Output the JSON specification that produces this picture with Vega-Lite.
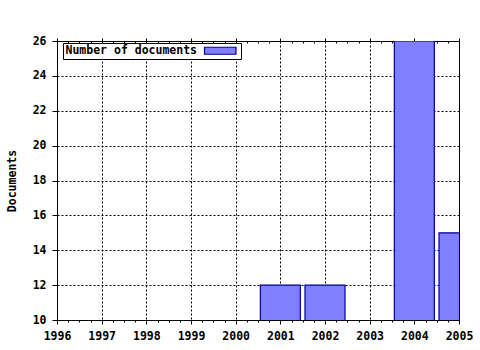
{
  "$schema": "https://vega.github.io/schema/vega-lite/v6.json",
  "width": 402,
  "height": 279,
  "autosize": {"type": "none"},
  "padding": {"left": 57, "top": 41, "right": 21, "bottom": 30},
  "background": "white",
  "config": {
    "font": "DejaVu Sans Mono",
    "view": {"stroke": "black", "strokeWidth": 1},
    "axis": {
      "labelFont": "DejaVu Sans Mono",
      "labelFontWeight": "bold",
      "labelFontSize": 11.5,
      "labelColor": "black",
      "titleFont": "DejaVu Sans Mono",
      "titleFontWeight": "bold",
      "titleFontSize": 11.5,
      "titleColor": "black",
      "domainColor": "black",
      "tickColor": "black",
      "gridColor": "black",
      "gridDash": [2, 2],
      "gridWidth": 1
    }
  },
  "data": {
    "values": [
      {"year": 2001, "docs": 12, "series": "Number of documents"},
      {"year": 2002, "docs": 12, "series": "Number of documents"},
      {"year": 2004, "docs": 26, "series": "Number of documents"},
      {"year": 2005, "docs": 15, "series": "Number of documents"}
    ]
  },
  "encoding": {
    "y": {
      "field": "docs", "type": "quantitative",
      "scale": {"domain": [10, 26], "nice": false, "zero": false, "padding": 0},
      "axis": {
        "title": "Documents",
        "values": [10, 12, 14, 16, 18, 20, 22, 24, 26],
        "labelOverlap": false,
        "labelFlush": false,
        "tickSize": 5,
        "labelPadding": 6,
        "titlePadding": 15,
        "grid": true
      }
    }
  },
  "layer": [
    {
      "mark": {"type": "bar", "width": 40, "clip": true, "stroke": "#000090", "strokeWidth": 1.2, "fillOpacity": 1},
      "encoding": {
        "x": {
          "field": "year", "type": "quantitative",
          "scale": {"domain": [1996, 2005], "nice": false, "zero": false, "padding": 0},
          "axis": {
            "title": null,
            "values": [1996,1996.25,1996.5,1996.75,1997,1997.25,1997.5,1997.75,1998,1998.25,1998.5,1998.75,1999,1999.25,1999.5,1999.75,2000,2000.25,2000.5,2000.75,2001,2001.25,2001.5,2001.75,2002,2002.25,2002.5,2002.75,2003,2003.25,2003.5,2003.75,2004,2004.25,2004.5,2004.75,2005],
            "labelExpr": "datum.value % 1 === 0 ? format(datum.value, 'd') : ''",
            "labelFlush": false,
            "labelOverlap": false,
            "labelPadding": 6,
            "tickSize": {"condition": {"test": "datum.value % 1 === 0", "value": 4}, "value": 2},
            "grid": true,
            "gridOpacity": {"condition": {"test": "datum.value % 1 === 0", "value": 1}, "value": 0}
          }
        },
        "color": {
          "field": "series", "type": "nominal",
          "scale": {"range": ["#8080ff"]},
          "legend": {
            "title": null,
            "orient": "none",
            "legendX": 6,
            "legendY": 2,
            "strokeColor": "black",
            "fillColor": "white",
            "padding": 2,
            "symbolType": "M-4.5,-1H4.5V1H-4.5Z",
            "symbolSize": 49,
            "symbolStrokeColor": "#000090",
            "symbolStrokeWidth": 1.2,
            "symbolFillColor": "#8080ff",
            "symbolOpacity": 1,
            "symbolOffset": 149.5,
            "labelOffset": -160.5,
            "labelFont": "DejaVu Sans Mono",
            "labelFontWeight": "bold",
            "labelFontSize": 11.5,
            "labelColor": "black",
            "labelLimit": 300
          }
        }
      }
    },
    {
      "mark": {"type": "bar", "width": 40, "clip": true, "opacity": 0},
      "encoding": {
        "x": {
          "field": "year", "type": "quantitative",
          "axis": {
            "title": null,
            "orient": "top",
            "labels": false,
            "grid": false,
            "values": [1996,1996.25,1996.5,1996.75,1997,1997.25,1997.5,1997.75,1998,1998.25,1998.5,1998.75,1999,1999.25,1999.5,1999.75,2000,2000.25,2000.5,2000.75,2001,2001.25,2001.5,2001.75,2002,2002.25,2002.5,2002.75,2003,2003.25,2003.5,2003.75,2004,2004.25,2004.5,2004.75,2005],
            "tickSize": {"condition": {"test": "datum.value % 1 === 0", "value": 3}, "value": -2}
          }
        }
      }
    }
  ],
  "resolve": {"axis": {"x": "independent"}}
}
